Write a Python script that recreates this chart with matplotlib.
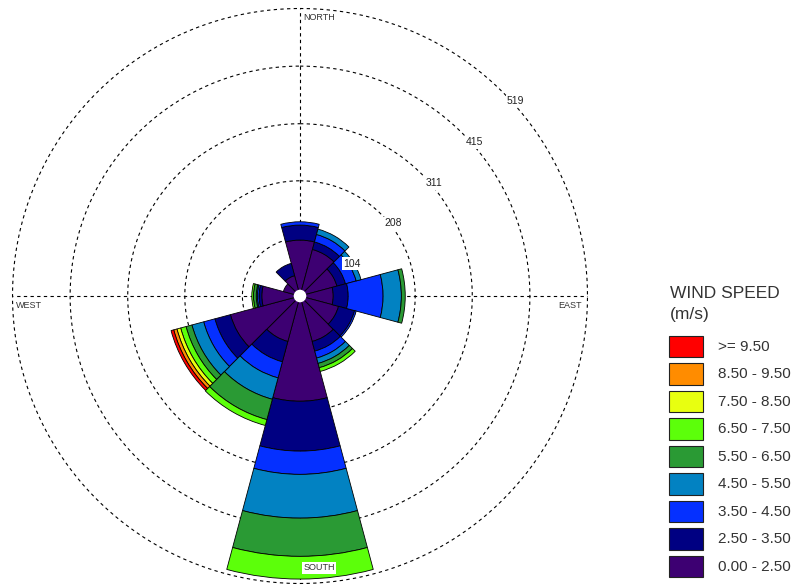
import numpy as np
import matplotlib.pyplot as plt
from matplotlib.patches import Rectangle, Circle

plt.rcParams['font.family'] = ['Liberation Sans', 'DejaVu Sans']

# wind directions (deg, clockwise from north)
directions = [0, 30, 60, 90, 120, 150, 180, 210, 240, 270, 300, 330]

# counts per speed class for each direction
s0_25 = [101, 87, 69, 60, 72, 85, 190, 85, 130, 69, 31, 38]
s25_35 = [27, 14, 16, 27, 30, 18, 90, 38, 29, 5, 0, 23]
s35_45 = [6, 14, 20, 63, 3, 13, 42, 30, 21, 3, 0, 0]
s45_55 = [0, 10, 9, 33, 0, 10, 79, 40, 22, 2, 0, 0]
s55_65 = [0, 0, 0, 7, 0, 8, 69, 38, 11, 5, 0, 0]
s65_75 = [0, 0, 0, 0, 0, 7, 41, 11, 10, 3, 0, 0]
s75_85 = [0, 0, 0, 0, 0, 0, 0, 0, 7, 0, 0, 0]
s85_95 = [0, 0, 0, 0, 0, 0, 0, 0, 6, 0, 0, 0]
s95_up = [0, 0, 0, 0, 0, 0, 0, 0, 5, 0, 0, 0]

speed_labels = ['0.00 - 2.50', '2.50 - 3.50', '3.50 - 4.50', '4.50 - 5.50',
                '5.50 - 6.50', '6.50 - 7.50', '7.50 - 8.50', '8.50 - 9.50', '>= 9.50']
colors = ['#3d0072', '#000082', '#0530ff', '#0282c2', '#2a9a34',
          '#5cff0a', '#e8ff10', '#ff8c00', '#ff0000']

ring_values = [104, 208, 311, 415, 519]

fig = plt.figure(figsize=(7.95, 5.85), dpi=100)
ax = fig.add_axes([12.5 / 795, 1.5 / 585, 575 / 795, 575 / 585], projection='polar')
ax.set_theta_zero_location('N')
ax.set_theta_direction(-1)
ax.set_ylim(0, 519)
ax.grid(False)
ax.set_xticks([])
ax.set_yticks([])
ax.spines['polar'].set_visible(False)

# dashed rings and crosshair
tt = np.linspace(0, 2 * np.pi, 400)
for r in ring_values:
    ax.plot(tt, [r] * len(tt), ls=(0, (3, 3)), color='black', lw=0.8, zorder=1, clip_on=False)
for a in [0, 90]:
    th = np.deg2rad(a)
    ax.plot([th, th], [0, 519], ls=(0, (3, 3)), color='black', lw=0.8, zorder=1)
    ax.plot([th + np.pi, th + np.pi], [0, 519], ls=(0, (3, 3)), color='black', lw=0.8, zorder=1)

# stacked bars
series = [s0_25, s25_35, s35_45, s45_55, s55_65, s65_75, s75_85, s85_95, s95_up]
theta = np.deg2rad(directions)
width = np.deg2rad(30)
bottom = np.zeros(len(directions))
for vals, c in zip(series, colors):
    vals = np.array(vals, dtype=float)
    mask = vals > 0
    ax.bar(theta[mask], vals[mask], width=width, bottom=bottom[mask], color=c,
           edgecolor='black', linewidth=0.6, zorder=3)
    bottom += vals

ax.add_patch(Circle((0.5, 0.5), 6.3 / 575, transform=ax.transAxes,
                    facecolor='white', edgecolor='none', zorder=6))

# ring labels
label_pos = [(58, 110), (52, 213), (50, 316), (48.7, 420), (47.9, 525)]
for val, (ang, rr) in zip(ring_values, label_pos):
    ax.text(np.deg2rad(ang), rr, str(val), fontsize=7.5, ha='center', va='center',
            zorder=7, color='#222222',
            bbox=dict(facecolor='white', edgecolor='none', pad=1))

# compass labels
ax.text(0.505, 0.985, 'NORTH', transform=ax.transAxes, fontsize=6.5, ha='left', va='center', color='#333333')
ax.text(0.006, 0.483, 'WEST', transform=ax.transAxes, fontsize=6.5, ha='left', va='center', color='#333333')
ax.text(0.99, 0.483, 'EAST', transform=ax.transAxes, fontsize=6.5, ha='right', va='center', color='#333333')
ax.text(0.533, 0.027, 'SOUTH', transform=ax.transAxes, fontsize=6.5, ha='center', va='center',
        color='#333333', zorder=7, bbox=dict(facecolor='white', edgecolor='none', pad=1))

# legend
W, H = 795, 585
fig.text(670 / W, 1 - 298 / H, 'WIND SPEED', fontsize=12.5, color='#333333', va='baseline', ha='left')
fig.text(670 / W, 1 - 319 / H, '(m/s)', fontsize=12.5, color='#333333', va='baseline', ha='left')
for i in range(len(speed_labels)):
    k = len(speed_labels) - 1 - i
    y_top = 335.7 + i * 27.5
    fig.patches.append(Rectangle((669 / W, 1 - (y_top + 21.5) / H), 34 / W, 21.5 / H,
                                 transform=fig.transFigure, facecolor=colors[k],
                                 edgecolor='#222222', linewidth=0.8))
    fig.text(718 / W, 1 - (y_top + 11) / H, speed_labels[k], fontsize=11,
             color='#333333', va='center', ha='left')

fig.savefig('out.png', dpi=100)
